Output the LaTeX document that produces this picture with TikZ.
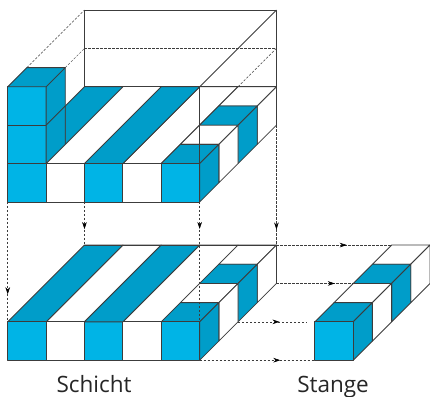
\documentclass[tikz,border=0pt]{standalone}
\usepackage{fontspec}
\setmainfont{Open Sans}
\usetikzlibrary{arrows.meta,decorations.markings}
\definecolor{frontblue}{HTML}{00B4E6}
\definecolor{darkblue}{HTML}{009DC9}
\definecolor{edge}{HTML}{3C3C3C}
\tikzset{
  face/.style={draw=edge,line width=0.85pt,line join=round},
  lightface/.style={face,fill=frontblue},
  darkface/.style={face,fill=darkblue},
  whiteface/.style={face,fill=white},
  guide/.style={draw=edge,line width=0.5pt,dash pattern=on 2.4pt off 1.6pt},
  tipat/.style={postaction={decorate,decoration={markings,
     mark=at position #1 with {\arrow[black]{Stealth[length=7pt,width=4.6pt]}}}}},
  caption/.style={font=\fontsize{22.5}{25}\selectfont,text=black!85,inner sep=0pt,anchor=base}
}
% the stick of four half-deep cells, seen from the right (front cell a=8..10)
\newcommand{\stickcells}{%
  \path[whiteface] (11,5)--(13,5)--(14,6)--(12,6)--cycle;
  \path[whiteface] (13,3)--(13,5)--(14,6)--(14,4)--cycle;
  \path[darkface] (10,4)--(12,4)--(13,5)--(11,5)--cycle;
  \path[darkface] (12,2)--(12,4)--(13,5)--(13,3)--cycle;
  \path[whiteface] (9,3)--(11,3)--(12,4)--(10,4)--cycle;
  \path[whiteface] (11,1)--(11,3)--(12,4)--(12,2)--cycle;
  \path[darkface] (8,2)--(10,2)--(11,3)--(9,3)--cycle;
  \path[darkface] (10,0)--(10,2)--(11,3)--(11,1)--cycle;
  \path[lightface] (8,0) rectangle (10,2);
}
\newcommand{\frontrow}{%
  \path[whiteface] (2,0) rectangle (4,2);
  \path[lightface] (4,0) rectangle (6,2);
  \path[whiteface] (6,0) rectangle (8,2);
  \path[darkface] (4,2)--(6,2)--(10,6)--(8,6)--cycle;
}
\begin{document}
\begin{tikzpicture}[x=19.2pt,y=19.2pt]
\useasboundingbox (-0.401,-10.156) rectangle (22,10.521);
\fill[white] (-0.401,-10.156) rectangle (22,10.521);
% ---------- upper figure
\begin{scope}
  \coordinate (tA) at (0,0);
  \coordinate (tB) at (4,0);
  \coordinate (tC) at (10,0);
  \coordinate (tD) at (14,4);
  \path[whiteface] (6,2)--(8,2)--(12,6)--(10,6)--cycle;
  \path[darkface] (3,3)--(6,6)--(4,6)--(3,5)--cycle;
  \frontrow
  \stickcells
  % frame
  \draw[face] (4,6)--(4,10)--(14,10)--(14,4);
  \draw[face] (4,6)--(14,6);
  \draw[face] (10,6)--(14,10);
  \draw[face] (10,6)--(10,2);
  \draw[guide] (4,8)--(14,8);
  \draw[guide] (1,7)--(4,10);
  \draw[guide] (3,7)--(4,8);
  \draw[guide] (12,6)--(14,8);
  % stack of three cubes
  \path[lightface] (0,0) rectangle (2,2);
  \path[lightface] (0,2) rectangle (2,4);
  \path[lightface] (0,4) rectangle (2,6);
  \path[darkface] (2,2)--(2,6)--(3,7)--(3,3)--cycle;
  \draw[face] (2,4)--(3,5);
  \path[darkface] (0,6)--(2,6)--(3,7)--(1,7)--cycle;
\end{scope}
% ---------- lower figure
\begin{scope}[yshift=-158.3pt]
  \coordinate (bA) at (0,2);
  \coordinate (bB) at (4,6);
  \coordinate (bC) at (10,2);
  \coordinate (bD) at (14,6);
  \coordinate (r1) at (14,6);
  \coordinate (r2) at (14,4);
  \coordinate (r3) at (12,2);
  \coordinate (r4) at (10,0);
  \coordinate (s1) at (20,6);
  \coordinate (s2) at (18,4);
  \coordinate (s3) at (15.6,2);
  \coordinate (s4) at (16,0);
  \path[whiteface] (2,2)--(4,2)--(8,6)--(6,6)--cycle;
  \path[whiteface] (6,2)--(8,2)--(12,6)--(10,6)--cycle;
  \path[darkface] (0,2)--(2,2)--(6,6)--(4,6)--cycle;
  \path[lightface] (0,0) rectangle (2,2);
  \frontrow
  \stickcells
  \draw[face] (4,6)--(14,6);
  % stick on the right
  \begin{scope}[xshift=153.6pt]
    \stickcells
  \end{scope}
\end{scope}
% ---------- projection lines
\draw[guide,tipat=.77] (tA)--(bA);
\draw[guide,tipat=.63] (tB)--(bB);
\draw[guide,tipat=.225] (tC)--(bC);
\draw[guide,tipat=.87] (tD)--(bD);
\draw[guide,tipat=.61] (r1)--(s1);
\draw[guide,tipat=.76] (r2)--(s2);
\draw[guide,tipat=.6] (r3)--(s3);
\draw[guide,tipat=.7] (r4)--(s4);
% ---------- captions
\node[caption] (schicht) at (4.5,-9.93) {Schicht};
\node[caption] (stange) at (16.95,-9.93) {Stange};
\end{tikzpicture}
\end{document}
